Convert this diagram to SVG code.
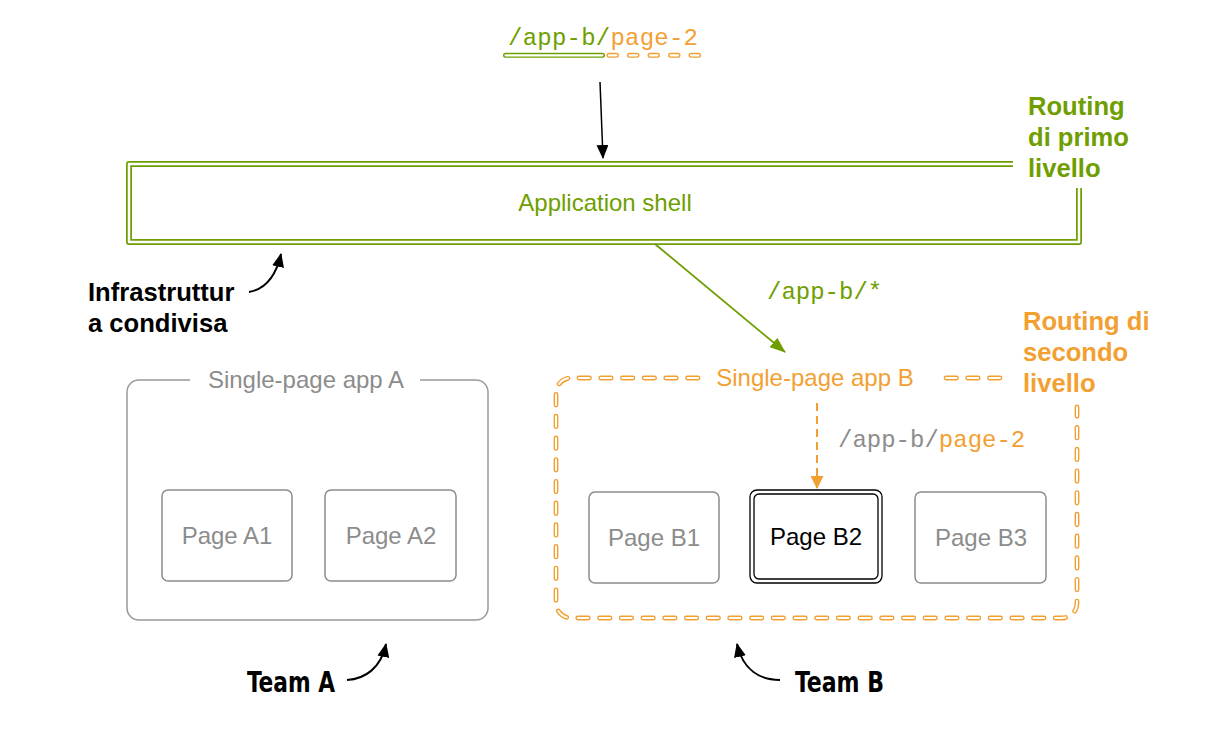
<svg xmlns="http://www.w3.org/2000/svg" width="1230" height="729" viewBox="0 0 1230 729">
<style>
.sans{font-family:"Liberation Sans",Arial,sans-serif}
.mono{font-family:"Liberation Mono","Courier New",monospace;font-size:24px}
.g{fill:#6f9e00}
.o{fill:#f3a033}
.gr{fill:#8c8c8c}
.lbl{font-size:24px;text-anchor:middle}
.bold{font-weight:bold;font-size:25.6px}
.team{font-family:"DejaVu Sans Condensed","DejaVu Sans",sans-serif;font-weight:bold;font-size:28px;fill:#000}
.page{fill:#fff;stroke:#8c8c8c;stroke-width:1.5}
.dbl-g{fill:none;stroke:#6f9e00;stroke-width:6;stroke-linejoin:round}
.dbl-w{fill:none;stroke:#fff;stroke-width:2.5;stroke-linejoin:round}
.od{fill:none;stroke:#f3a033;stroke-width:4.8;stroke-linecap:round;stroke-dasharray:10.5 11.2}
.odw{fill:none;stroke:#fff;stroke-width:2;stroke-linecap:round;stroke-dasharray:10.5 11.2}
.curve{fill:none;stroke:#000;stroke-width:2}
</style>
<defs>
<marker id="ahB" viewBox="0 0 14 12" refX="13" refY="6" markerWidth="14" markerHeight="12" markerUnits="userSpaceOnUse" orient="auto"><path d="M0,0 L14,6 L0,12 Z" fill="#000"/></marker>
<marker id="ahG" viewBox="0 0 16 12" refX="15" refY="6" markerWidth="16" markerHeight="12" markerUnits="userSpaceOnUse" orient="auto"><path d="M0,0 L16,6 L0,12 Z" fill="#6f9e00"/></marker>
<marker id="ahO" viewBox="0 0 13 13" refX="12" refY="6.5" markerWidth="13" markerHeight="13" markerUnits="userSpaceOnUse" orient="auto"><path d="M0,0 L13,6.5 L0,13 Z" fill="#f3a033"/></marker>
<marker id="ahC" viewBox="0 0 14 12" refX="13" refY="6" markerWidth="14" markerHeight="12" markerUnits="userSpaceOnUse" orient="auto"><path d="M0,0 L14,6 L0,12 Z" fill="#000"/></marker>
</defs>

<g id="url-top">
<text class="mono" x="508" y="45" textLength="190" lengthAdjust="spacing"><tspan class="g">/app-b/</tspan><tspan class="o">page-2</tspan></text>
<path d="M505.5,55.3 L602.5,55.3" stroke="#6f9e00" stroke-width="5" stroke-linecap="round" fill="none"/>
<path d="M505.5,55.3 L602.5,55.3" stroke="#fff" stroke-width="2.2" stroke-linecap="round" fill="none"/>
<path d="M609,55.3 L703,55.3" stroke="#f3a033" stroke-width="5" stroke-linecap="round" stroke-dasharray="7.5 13" fill="none"/>
<path d="M609,55.3 L703,55.3" stroke="#fff" stroke-width="2.2" stroke-linecap="round" stroke-dasharray="7.5 13" fill="none"/>
</g>

<g id="app-shell">
<path class="dbl-g" d="M1013,164 L129,164 L129,242 L1079,242 L1079,188"/>
<path class="dbl-w" d="M1013,164 L129,164 L129,242 L1079,242 L1079,188"/>
<text class="sans lbl g" x="605" y="211">Application shell</text>
</g>

<g id="label-routing1">
<text class="sans bold g" x="1028" y="115">Routing</text>
<text class="sans bold g" x="1028" y="146">di primo</text>
<text class="sans bold g" x="1028" y="177">livello</text>
</g>

<g id="label-infra">
<text class="sans bold" x="88" y="301" fill="#000">Infrastruttur</text>
<text class="sans bold" x="88" y="332" fill="#000">a condivisa</text>
</g>

<g id="spa-a">
<path d="M190,380 L139,380 A12,12 0 0 0 127,392 L127,608 A12,12 0 0 0 139,620 L476,620 A12,12 0 0 0 488,608 L488,392 A12,12 0 0 0 476,380 L420,380" fill="none" stroke="#999" stroke-width="1.5"/>
<text class="sans lbl gr" x="306" y="388">Single-page app A</text>
</g>
<g id="page-a1">
<rect class="page" x="162" y="490" width="130" height="91" rx="6"/>
<text class="sans lbl gr" x="227" y="544">Page A1</text>
</g>
<g id="page-a2">
<rect class="page" x="325" y="490" width="131" height="91" rx="6"/>
<text class="sans lbl gr" x="391" y="544">Page A2</text>
</g>

<g id="spa-b">
<path class="od" d="M698,378 L571,378 A15,15 0 0 0 556,393 L556,603 A15,15 0 0 0 571,618 L1062,618 A15,15 0 0 0 1077,603 L1077,407"/>
<path class="odw" d="M698,378 L571,378 A15,15 0 0 0 556,393 L556,603 A15,15 0 0 0 571,618 L1062,618 A15,15 0 0 0 1077,603 L1077,407"/>
<path class="od" d="M946,378 L1004,378"/>
<path class="odw" d="M946,378 L1004,378"/>
<text class="sans lbl o" x="815" y="386">Single-page app B</text>
</g>

<g id="label-routing2">
<text class="sans bold o" x="1023" y="330">Routing di</text>
<text class="sans bold o" x="1023" y="361">secondo</text>
<text class="sans bold o" x="1023" y="392">livello</text>
</g>

<g id="page-b1">
<rect class="page" x="589" y="492" width="130" height="91" rx="6"/>
<text class="sans lbl gr" x="654" y="546">Page B1</text>
</g>
<g id="page-b2">
<rect x="750" y="490" width="132" height="93" rx="7" fill="#fff" stroke="#000" stroke-width="1.3"/>
<rect x="754" y="494" width="124" height="85" rx="5" fill="none" stroke="#000" stroke-width="1.3"/>
<text class="sans lbl" x="816" y="545" fill="#000">Page B2</text>
</g>
<g id="page-b3">
<rect class="page" x="915" y="492" width="131" height="91" rx="6"/>
<text class="sans lbl gr" x="981" y="546">Page B3</text>
</g>

<g id="team-a"><text class="team" x="247" y="692" textLength="88" lengthAdjust="spacingAndGlyphs">Team A</text></g>
<g id="team-b"><text class="team" x="795" y="692" textLength="89" lengthAdjust="spacingAndGlyphs">Team B</text></g>

<g id="connectors">
<path d="M600,82 L603,158" stroke="#000" stroke-width="1.5" fill="none" marker-end="url(#ahB)"/>
<path d="M655,244 L785,352" stroke="#6f9e00" stroke-width="1.8" fill="none" marker-end="url(#ahG)"/>
<text class="mono g" x="767" y="299">/app-b/*</text>
<path d="M817,403 L817,488" stroke="#f3a033" stroke-width="2" stroke-dasharray="8 5" fill="none" marker-end="url(#ahO)"/>
<text class="mono" x="838" y="447"><tspan class="gr">/app-b/</tspan><tspan class="o">page-2</tspan></text>
<path class="curve" d="M249,292 C266,289 276,276 281,254" marker-end="url(#ahC)"/>
<path class="curve" d="M347,680 C365,679 381,668 386,644" marker-end="url(#ahC)"/>
<path class="curve" d="M780,680 C760,680 743,670 737,644" marker-end="url(#ahC)"/>
</g>
</svg>
